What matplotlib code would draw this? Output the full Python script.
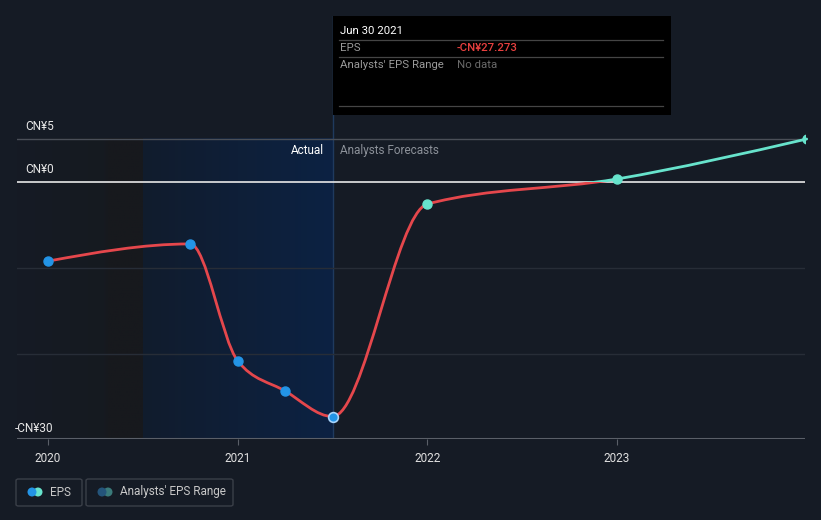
import matplotlib
matplotlib.use("Agg")
import matplotlib.pyplot as plt
import numpy as np
from matplotlib.path import Path
from matplotlib.patches import PathPatch, Rectangle, FancyBboxPatch

# ---- data ----
dates = [2020.0, 2020.75, 2021.0, 2021.25, 2021.5, 2022.0, 2023.0, 2024.0]
eps = [-9.2, -7.2, -20.8, -24.3, -27.273, -2.56, 0.35, 5.0]
actual_n = 5  # first 5 points are actual
year_ticks = [2020, 2021, 2022, 2023]
year_labels = ["2020", "2021", "2022", "2023"]
y_labels = {5: "CN¥5", 0: "CN¥0", -30: "-CN¥30"}

BG = "#151b25"
RED = "#e5474c"
TEAL = "#67e3cc"
BLUE = "#2394e6"

W, H = 821, 520
fig = plt.figure(figsize=(W / 100, H / 100), dpi=100, facecolor=BG)
plt.rcParams['font.family'] = ['Roboto', 'DejaVu Sans']

def fx(px):
    return px / W

def fy(py):
    return 1 - py / H

ax = fig.add_axes([fx(17), fy(439), 788 / W, 423 / H])
ax.set_facecolor(BG)
ppy = 189.67
xmin, xmax = 2020 - 31 / ppy, 2020 + 757 / ppy
ppu = 8.6
ymin, ymax = -(439 - 182) / ppu, (182 - 16) / ppu

for s in ax.spines.values():
    s.set_visible(False)

# shaded regions (gradients)
g1 = np.linspace(0, 1, 256).reshape(1, -1)
left_cmap = matplotlib.colors.LinearSegmentedColormap.from_list(
    "l", [(0, BG), (0.7, "#161a20"), (0.72, "#17191e"), (1, "#17191d")])
ax.imshow(g1, extent=[xmin, 2020.5, ymin, 5], aspect="auto", cmap=left_cmap, zorder=0,
          interpolation="bilinear")
blue_cmap = matplotlib.colors.LinearSegmentedColormap.from_list("b", ["#111c2d", "#0c2243"])
ax.imshow(g1, extent=[2020.5, dates[actual_n - 1], ymin, 5], aspect="auto",
          cmap=blue_cmap, zorder=0, interpolation="bilinear")
ax.set_xlim(xmin, xmax)
ax.set_ylim(ymin, ymax)
ax.axvline(dates[actual_n - 1], color="#1f3a5e", lw=1, zorder=1)

# gridlines
for v in [-10, -20]:
    ax.axhline(v, color="#272d37", lw=1, zorder=1)
ax.axhline(5, color="#4a4f58", lw=1, zorder=1)
ax.axhline(0, color="#e8e8e8", lw=1.2, zorder=2)
ax.axhline(ymin, color="#5a5f68", lw=1.5, zorder=2)

# x ticks
ax.set_xticks(year_ticks)
ax.set_xticklabels(year_labels, color="#e0e0e0", fontsize=8.5)
ax.tick_params(axis="x", length=4, color="#5a5f68", pad=5)
ax.set_yticks([])

# y labels
for v, lab in y_labels.items():
    xoff = 25 if v != -30 else 15
    ax.annotate(lab, xy=(xmin, v), xycoords="data", xytext=(xoff - 17, 12), textcoords="offset pixels",
                ha="left", va="center", color="#e8e8e8", fontsize=8.5, annotation_clip=False)

ax.annotate("Actual", xy=(dates[actual_n - 1], 5), xytext=(-9, -12), textcoords="offset pixels",
            ha="right", va="center", color="#ffffff", fontsize=8.5)
ax.annotate("Analysts Forecasts", xy=(dates[actual_n - 1], 5), xytext=(7, -12), textcoords="offset pixels",
            ha="left", va="center", color="#8c9199", fontsize=8.5)

# monotone cubic (d3 monotoneX) path
x = np.array(dates)
y = np.array(eps)
n = len(x)
t = np.zeros(n)
for i in range(1, n - 1):
    h0, h1 = x[i] - x[i - 1], x[i + 1] - x[i]
    s0, s1 = (y[i] - y[i - 1]) / h0, (y[i + 1] - y[i]) / h1
    p = (s0 * h1 + s1 * h0) / (h0 + h1)
    t[i] = (np.sign(s0) + np.sign(s1)) * min(abs(s0), abs(s1), 0.5 * abs(p))
h = x[1] - x[0]
t[0] = (3 * (y[1] - y[0]) / h - t[1]) / 2
h = x[-1] - x[-2]
t[-1] = (3 * (y[-1] - y[-2]) / h - t[-2]) / 2
verts = [(x[0], y[0])]
codes = [Path.MOVETO]
for i in range(n - 1):
    dx = (x[i + 1] - x[i]) / 3
    verts += [(x[i] + dx, y[i] + dx * t[i]), (x[i + 1] - dx, y[i + 1] - dx * t[i + 1]), (x[i + 1], y[i + 1])]
    codes += [Path.CURVE4] * 3
path = Path(verts, codes)

for col, (y0, y1) in [(RED, (-100, 0)), (TEAL, (0, 100))]:
    pp = PathPatch(path, fill=False, edgecolor=col, lw=2.0, zorder=4, capstyle="round")
    ax.add_patch(pp)
    clip = Rectangle((xmin - 1, y0), xmax - xmin + 2, y1 - y0, transform=ax.transData)
    pp.set_clip_path(clip)

# markers
ax.plot(x[:actual_n - 1], y[:actual_n - 1], "o", color=BLUE, ms=6.5, mec=BLUE, zorder=5)
ax.plot(x[actual_n - 1], y[actual_n - 1], "o", color=BLUE, ms=7, mec="#a8d4fa", mew=1.2, zorder=5)
ax.plot(x[actual_n:], y[actual_n:], "o", color=TEAL, ms=6.5, mec=TEAL, zorder=5)

# tooltip
fig.patches.append(Rectangle((fx(333), fy(115)), 338 / W, 99 / H, transform=fig.transFigure,
                             facecolor="#000000", edgecolor="none", zorder=10))
for py in [40, 57, 106]:
    fig.lines.append(matplotlib.lines.Line2D([fx(339), fx(663)], [fy(py), fy(py)], transform=fig.transFigure,
                                             color="#454545", lw=0.9, zorder=11))
fs_tt = 8.2
fig.text(fx(340), fy(31), "Jun 30 2021", color="#ffffff", fontsize=fs_tt, va="center", ha="left", zorder=12)
fig.text(fx(340), fy(48), "EPS", color="#9a9a9a", fontsize=fs_tt, va="center", ha="left", zorder=12)
fig.text(fx(457), fy(48), "-CN¥27.273", color="#e8403f", fontsize=fs_tt, va="center", ha="left", zorder=12,
         fontweight="medium")
fig.text(fx(340), fy(65), "Analysts' EPS Range", color="#9a9a9a", fontsize=fs_tt, va="center", ha="left", zorder=12)
fig.text(fx(457), fy(65), "No data", color="#6a6a6a", fontsize=fs_tt, va="center", ha="left", zorder=12)

# legend
for (x0, x1) in [(16, 82), (86, 233)]:
    fig.patches.append(FancyBboxPatch((fx(x0), fy(506)), (x1 - x0) / W, 27 / H,
                                      boxstyle="round,pad=0,rounding_size=0.003",
                                      transform=fig.transFigure, facecolor="none",
                                      edgecolor="#3a3f48", lw=1))
def dot(px, py, col):
    fig.patches.append(matplotlib.patches.Ellipse((fx(px), fy(py)), 9 / W, 9 / H, transform=fig.transFigure,
                                                  facecolor=col, edgecolor="none"))
dot(38, 492, TEAL)
dot(32, 492, BLUE)
dot(108, 492, "#3a7a7a")
dot(102, 492, "#24547a")
fig.text(fx(50), fy(492), "EPS", color="#c8c8c8", fontsize=8.5, va="center", ha="left")
fig.text(fx(120), fy(492), "Analysts' EPS Range", color="#c8c8c8", fontsize=8.5, va="center", ha="left")

fig.savefig("out.png", dpi=100, facecolor=BG)
